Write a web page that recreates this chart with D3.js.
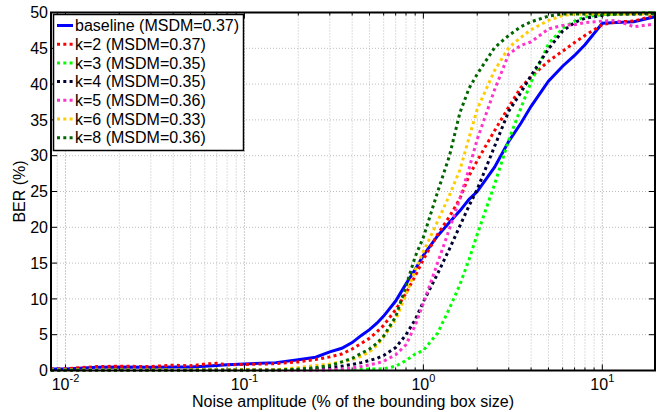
<!DOCTYPE html>
<html><head><meta charset="utf-8">
<script src="https://cdn.jsdelivr.net/npm/d3@7"></script>
<style>body{margin:0;background:#fff}svg{display:block;font-family:"Liberation Sans",Arial,sans-serif}</style>
</head><body><svg id="c" width="665" height="412"></svg>
<script>
const noise = [0.0083,0.01,0.015,0.02,0.03,0.04,0.05,0.06,0.07,0.08,0.1,0.15,0.2,0.25,0.3,0.35,0.4,0.45,0.5,0.55,0.6,0.7,0.8,0.9,1.0,1.2,1.4,1.6,1.8,2.0,2.5,3,3.5,4,5,6,7,8,10,12,15,19.7];
const baseline = [0.2,0.2,0.45,0.5,0.45,0.5,0.5,0.6,0.7,0.8,0.9,1.1,1.5,1.85,2.6,3.1,3.9,4.9,5.7,6.6,7.6,9.7,12.1,14.1,16.1,18.8,20.7,22.3,23.9,25.0,28.4,32.0,34.5,36.9,40.4,42.5,44.0,45.5,48.5,48.6,48.7,49.4];
const k2 = [0.2,0.25,0.55,0.6,0.55,0.75,0.65,0.9,1.0,0.8,0.85,0.95,1.2,1.55,1.9,2.3,3.0,3.8,4.5,5.4,6.3,8.5,10.8,13.2,15.5,19.0,21.5,24.0,27.2,29.3,33.5,36.8,39.5,41.0,43.2,44.6,45.8,46.8,48.3,48.7,48.8,49.6];
const k3 = [0.1,0.1,0.1,0.1,0.1,0.1,0.1,0.1,0.1,0.1,0.1,0.1,0.1,0.1,0.1,0.1,0.1,0.15,0.2,0.2,0.25,0.6,1.4,2.3,2.8,5.2,8.7,12.0,15.5,19.0,26.0,32.2,36.6,40.3,45.6,47.8,48.8,49.4,49.7,49.8,49.9,50];
const k4 = [0.1,0.1,0.1,0.1,0.1,0.1,0.1,0.1,0.1,0.1,0.1,0.1,0.15,0.25,0.4,0.6,0.85,1.1,1.4,1.7,2.1,3.2,5.0,7.1,9.6,13.5,17.0,20.2,23.0,25.3,31.3,36.2,38.8,41.2,44.9,47.4,48.6,49.2,49.6,49.8,49.8,49.9];
const k5 = [0.05,0.05,0.05,0.05,0.05,0.05,0.05,0.05,0.05,0.05,0.05,0.05,0.05,0.05,0.1,0.2,0.35,0.55,0.8,1.0,1.3,2.2,3.6,6.3,9.4,15.0,19.8,24.0,28.2,32.3,39.2,44.2,45.4,45.9,47.7,48.2,48.3,48.6,48.8,48.9,48.0,48.4];
const k6 = [0.1,0.1,0.1,0.1,0.1,0.1,0.1,0.1,0.1,0.1,0.1,0.1,0.4,0.7,0.9,1.2,1.5,2.0,2.6,3.5,4.7,7.1,10.6,14.0,16.6,20.8,24.5,28.0,32.5,36.5,41.9,45.1,46.5,47.6,48.9,49.6,49.8,49.8,49.8,49.8,49.8,49.8];
const k8 = [0.05,0.05,0.05,0.05,0.05,0.05,0.05,0.05,0.05,0.05,0.05,0.05,0.2,0.4,0.7,1.2,1.7,2.4,3.0,3.8,4.8,7.5,11.8,15.9,18.6,24.9,30.0,36.0,39.4,41.4,45.1,46.8,48.0,48.7,49.5,49.8,49.8,49.8,49.8,49.8,49.8,49.8];
const seriesNames = ["baseline (MSDM=0.37)","k=2 (MSDM=0.37)","k=3 (MSDM=0.35)","k=4 (MSDM=0.35)","k=5 (MSDM=0.36)","k=6 (MSDM=0.33)","k=8 (MSDM=0.36)"];
const seriesValues = [baseline,k2,k3,k4,k5,k6,k8];
const seriesColors = ["#0000ff","#ff0000","#00ff00","#000033","#ff33cc","#ffcc00","#006600"];
const yTicks = [0,5,10,15,20,25,30,35,40,45,50];
const xMajor = [0.01,0.1,1,10];
const xLabels = ["-2","-1","0","1"];
const xTitle = "Noise amplitude (% of the bounding box size)";
const yTitle = "BER (%)";

const svg = d3.select("#c");
const L=51,R=655,T=12.5,B=370.5;
const x = d3.scaleLog().domain([0.0083,19.7]).range([L,R]);
const y = d3.scaleLinear().domain([0,50]).range([B,T]);

const minor=[];
[0.001,0.01,0.1,1,10].forEach(d=>{for(let m=1;m<10;m++){const v=d*m; if(v>=0.0083&&v<=19.7) minor.push(v);}});

const g = svg.append("g");
g.selectAll(".vg").data(minor).join("line")
 .attr("x1",d=>x(d)).attr("x2",d=>x(d)).attr("y1",T).attr("y2",B)
 .attr("stroke",d=>xMajor.includes(d)?"#999":"#bcbcbc").attr("stroke-width",1).attr("stroke-dasharray","1,2");
g.selectAll(".hg").data(yTicks.slice(1,-1)).join("line")
 .attr("x1",L).attr("x2",R).attr("y1",d=>y(d)).attr("y2",d=>y(d))
 .attr("stroke","#bcbcbc").attr("stroke-width",1).attr("stroke-dasharray","1,2");

const tk = svg.append("g").attr("stroke","#000").attr("stroke-width",1);
yTicks.forEach(v=>{
  tk.append("line").attr("x1",L).attr("x2",L+6).attr("y1",y(v)).attr("y2",y(v));
  tk.append("line").attr("x1",R-6).attr("x2",R).attr("y1",y(v)).attr("y2",y(v));
});
minor.forEach(v=>{
  const len = xMajor.includes(v)?6:3;
  tk.append("line").attr("x1",x(v)).attr("x2",x(v)).attr("y1",B).attr("y2",B-len);
  tk.append("line").attr("x1",x(v)).attr("x2",x(v)).attr("y1",T).attr("y2",T+len);
});

const line = d3.line().x((d,i)=>x(noise[i])).y(d=>y(d));
seriesValues.forEach((vals,i)=>{
  svg.append("path").datum(vals).attr("d",line).attr("fill","none")
    .attr("stroke",seriesColors[i]).attr("stroke-width",3)
    .attr("stroke-dasharray",i===0?null:"3,3.3");
});

svg.append("rect").attr("x",L).attr("y",T).attr("width",R-L).attr("height",B-T)
  .attr("fill","none").attr("stroke","#000").attr("stroke-width",2);

svg.selectAll(".yl").data(yTicks).join("text")
  .attr("x",L-3).attr("y",d=>y(d)).attr("dy","0.36em").attr("text-anchor","end")
  .attr("font-size",16).text(d=>d);

xMajor.forEach((v,i)=>{
  const t = svg.append("text").attr("x",x(v)).attr("y",390).attr("text-anchor","middle").attr("font-size",16);
  t.append("tspan").text("10");
  t.append("tspan").attr("dy",-8).attr("font-size",11).text(xLabels[i]);
});

svg.append("text").attr("x",(L+R)/2).attr("y",407).attr("text-anchor","middle").attr("font-size",16).text(xTitle);
svg.append("text").attr("transform",`translate(25,${(T+B)/2}) rotate(-90)`).attr("text-anchor","middle").attr("font-size",16).text(yTitle);

const lg = svg.append("g");
lg.append("rect").attr("x",53.5).attr("y",14.5).attr("width",190).attr("height",136)
  .attr("fill","#fff").attr("stroke","#000").attr("stroke-width",1.5);
seriesNames.forEach((n,i)=>{
  const cy = 25.5 + i*18.7;
  lg.append("line").attr("x1",57).attr("x2",73).attr("y1",cy).attr("y2",cy)
    .attr("stroke",seriesColors[i]).attr("stroke-width",3).attr("stroke-dasharray",i===0?null:"3,3.3");
  lg.append("text").attr("x",75).attr("y",cy).attr("dy","0.36em").attr("font-size",16).text(n);
});
</script></body></html>
